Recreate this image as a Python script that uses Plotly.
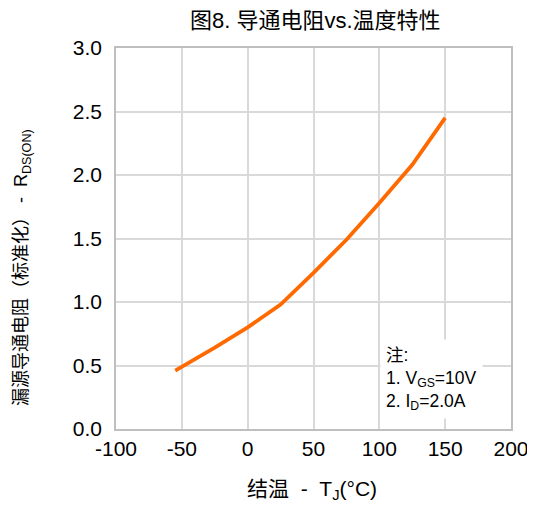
import plotly.graph_objects as go

temps = [-55, -25, 0, 25, 50, 75, 100, 125, 150]
rds_norm = [0.46, 0.64, 0.80, 0.98, 1.23, 1.49, 1.78, 2.08, 2.45]
x_ticks = [-100, -50, 0, 50, 100, 150, 200]
y_ticks = [0.0, 0.5, 1.0, 1.5, 2.0, 2.5, 3.0]

title_text = "图8. 导通电阻vs.温度特性"
x_title = "结温  -  T<sub>J</sub>(°C)"
y_title = "漏源导通电阻（标准化） -  R<sub>DS(ON)</sub>"
note_text = "注:<br>1. V<sub>GS</sub>=10V<br>2. I<sub>D</sub>=2.0A"

font_fam = "Liberation Sans, Arial, Noto Sans CJK SC, sans-serif"

fig = go.Figure()
fig.add_trace(go.Scatter(x=temps, y=rds_norm, mode="lines",
                         line=dict(color="#FF6A00", width=3.8), showlegend=False))

fig.update_layout(
    width=527, height=498,
    margin=dict(l=108, r=24, t=40, b=77, autoexpand=False),
    paper_bgcolor="white", plot_bgcolor="white",
    font=dict(family=font_fam, color="black"),
    title=dict(text=title_text, x=0.583, xanchor="center", y=0.975, yanchor="middle",
               font=dict(size=22, family=font_fam)),
    xaxis=dict(range=[-100, 200], tickvals=x_ticks, ticktext=[str(v) for v in x_ticks],
               showgrid=True, gridcolor="#D9D9D9", gridwidth=1.5,
               showline=True, linecolor="#BFBFBF", linewidth=1.5, mirror=True,
               zeroline=False, ticks="", tickfont=dict(size=21), automargin=False),
    yaxis=dict(range=[0, 3], tickvals=y_ticks, ticktext=[f"{v:.1f}" for v in y_ticks],
               showgrid=True, gridcolor="#D9D9D9", gridwidth=1.5,
               showline=True, linecolor="#BFBFBF", linewidth=1.5, mirror=True,
               zeroline=False, ticks="", tickfont=dict(size=21), ticklabelstandoff=8,
               automargin=False),
)

fig.add_annotation(x=-0.238, y=0.425, xref="paper", yref="paper", xanchor="center", yanchor="middle",
                   text=y_title, textangle=-90, showarrow=False,
                   font=dict(size=18, family=font_fam))

fig.add_annotation(x=0.496, y=-0.160, xref="paper", yref="paper", xanchor="center", yanchor="middle",
                   text=x_title, showarrow=False,
                   font=dict(size=21, family=font_fam))

fig.add_annotation(x=0.668, y=0.027, xref="paper", yref="paper", xanchor="left", yanchor="bottom",
                   text=note_text, showarrow=False, align="left",
                   bgcolor="white", borderpad=5,
                   font=dict(size=17.5, family=font_fam))

fig.write_html("out.html")
